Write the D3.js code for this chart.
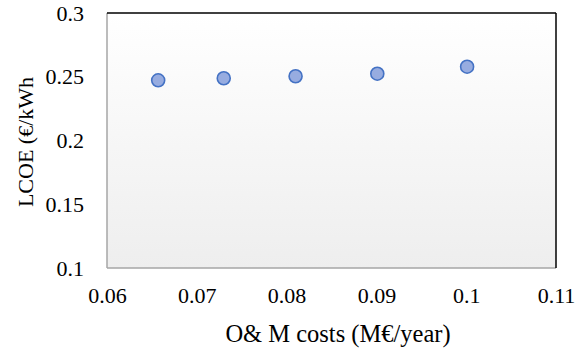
<!DOCTYPE html>
<html>
<head>
<meta charset="utf-8">
<script src="https://cdn.jsdelivr.net/npm/d3@7"></script>
<style>
  body { margin: 0; background: #fff; }
  svg text { font-family: 'Liberation Serif', 'Times New Roman', serif; fill: #000; }
</style>
</head>
<body>
<div id="chart"></div>
<script>
// data
var omCosts = [0.0657, 0.0730, 0.0810, 0.0901, 0.1001];
var lcoe = [0.2472, 0.2488, 0.2504, 0.2524, 0.2579];
var xTicks = [0.06, 0.07, 0.08, 0.09, 0.1, 0.11];
var yTicks = [0.1, 0.15, 0.2, 0.25, 0.3];

var width = 582, height = 352;
var margin = {left: 107, top: 13, right: 26, bottom: 84};
var plotW = width - margin.left - margin.right,
    plotH = height - margin.top - margin.bottom;

var svg = d3.select("#chart").append("svg")
            .attr("width", width)
            .attr("height", height);

var defs = svg.append("defs");
var grad = defs.append("linearGradient")
               .attr("id", "bg")
               .attr("x1", 0).attr("y1", 0).attr("x2", 0).attr("y2", 1);
grad.append("stop").attr("offset", "0%").attr("stop-color", "#ffffff");
grad.append("stop").attr("offset", "100%").attr("stop-color", "#eeeeee");

var x = d3.scaleLinear().domain([0.06, 0.11]).range([0, plotW]);
var y = d3.scaleLinear().domain([0.1, 0.3]).range([plotH, 0]);

var g = svg.append("g")
           .attr("transform", "translate(" + margin.left + "," + margin.top + ")");

// plot area background
g.append("rect")
 .attr("width", plotW)
 .attr("height", plotH)
 .style("fill", "url(#bg)");

// frame: gray left/bottom, black top/right
g.append("line").attr("x1", 0).attr("x2", 0).attr("y1", 0).attr("y2", plotH)
 .style("stroke", "#a6a6a6").style("stroke-width", 1.5);
g.append("line").attr("x1", 0).attr("x2", plotW).attr("y1", plotH).attr("y2", plotH)
 .style("stroke", "#a6a6a6").style("stroke-width", 1.5);
g.append("line").attr("x1", 0).attr("x2", plotW).attr("y1", 0).attr("y2", 0)
 .style("stroke", "#000").style("stroke-width", 1.5);
g.append("line").attr("x1", plotW).attr("x2", plotW).attr("y1", 0).attr("y2", plotH)
 .style("stroke", "#000").style("stroke-width", 1.5);

function fmt(d) { return String(+d.toFixed(2)); }

// axes (labels only)
var xAxis = g.append("g")
             .attr("transform", "translate(0," + plotH + ")")
             .call(d3.axisBottom(x).tickValues(xTicks).tickSize(0).tickPadding(19).tickFormat(fmt));
var yAxis = g.append("g")
             .call(d3.axisLeft(y).tickValues(yTicks).tickSize(0).tickPadding(23).tickFormat(fmt));
[xAxis, yAxis].forEach(function(a) {
    a.attr("font-family", null).attr("font-size", null);
    a.select(".domain").remove();
    a.selectAll("text").style("font-size", "22px");
});

// points
g.selectAll(".pt")
 .data(omCosts)
 .enter().append("circle")
 .attr("class", "pt")
 .attr("cx", function(d) { return x(d); })
 .attr("cy", function(d, i) { return y(lcoe[i]); })
 .attr("r", 6.5)
 .style("fill", "#97ace0")
 .style("stroke", "#4472c4")
 .style("stroke-width", 1.6);

// axis titles
svg.append("text")
   .attr("x", 338)
   .attr("y", 342)
   .attr("text-anchor", "middle")
   .style("font-size", "24.5px")
   .text("O& M costs (M€/year)");

svg.append("text")
   .attr("transform", "translate(33,142) rotate(-90)")
   .attr("text-anchor", "middle")
   .style("font-size", "22px")
   .text("LCOE (€/kWh");
</script>
</body>
</html>
